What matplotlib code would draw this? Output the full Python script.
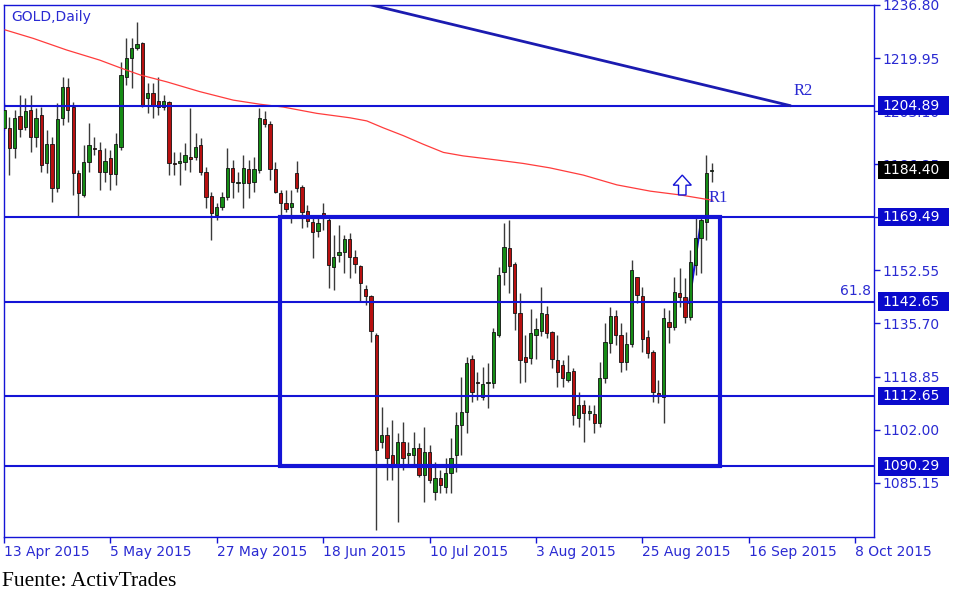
import numpy as np
import matplotlib
matplotlib.use('Agg')
import matplotlib.pyplot as plt
import matplotlib.transforms as mtrans
from matplotlib.patches import Rectangle, Polygon

# daily candles (bar 0 = 13 Apr 2015)
opens = [1197.8, 1197.7, 1191.3, 1201.7, 1198.2, 1203.5, 1195.0, 1201.9, 1186.5, 1192.6,
         1178.6, 1200.8, 1210.9, 1204.5, 1183.4, 1176.5, 1187.1, 1191.5, 1190.8, 1183.7,
         1188.3, 1183.1, 1191.8, 1214.0, 1220.1, 1223.1, 1224.7, 1207.2, 1208.8, 1206.3,
         1204.5, 1205.9, 1186.7, 1186.7, 1187.1, 1188.2, 1188.6, 1192.4, 1183.9, 1176.2,
         1170.2, 1172.8, 1175.8, 1185.0, 1180.2, 1180.2, 1184.6, 1180.7, 1184.4, 1200.5,
         1199.0, 1184.6, 1177.0, 1174.0, 1172.6, 1183.4, 1179.1, 1171.5, 1168.0, 1165.1,
         1170.7, 1168.5, 1153.7, 1157.4, 1158.5, 1162.4, 1156.9, 1154.0, 1146.5, 1144.4,
         1132.0, 1098.2, 1100.3, 1093.9, 1090.2, 1098.2, 1093.9, 1093.9, 1096.1, 1087.6,
         1095.0, 1082.3, 1086.5, 1083.9, 1088.3, 1093.9, 1103.5, 1107.7, 1124.3, 1116.9,
         1112.5, 1116.7, 1116.7, 1132.0, 1152.1, 1159.6, 1154.5, 1139.1, 1125.0, 1124.6,
         1132.0, 1133.4, 1138.7, 1133.1, 1124.1, 1122.5, 1117.8, 1120.7, 1105.6, 1109.8,
         1107.2, 1107.0, 1104.2, 1118.3, 1129.4, 1138.1, 1132.0, 1123.6, 1129.2, 1150.4,
         1144.4, 1131.3, 1126.7, 1113.7, 1112.5, 1136.3, 1134.5, 1145.5, 1144.2, 1137.9,
         1154.3, 1162.7, 1168.0, 1184.0]
highs = [1205.7, 1201.3, 1203.5, 1208.2, 1207.2, 1208.2, 1204.0, 1204.5, 1197.1, 1195.0,
         1205.6, 1214.0, 1213.5, 1206.1, 1184.4, 1192.4, 1199.3, 1195.0, 1193.4, 1191.3,
         1190.8, 1196.1, 1218.8, 1226.4, 1226.2, 1231.5, 1225.1, 1211.9, 1211.9, 1214.0,
         1208.2, 1206.3, 1190.2, 1190.2, 1193.0, 1204.1, 1196.2, 1194.6, 1185.5, 1177.5,
         1174.0, 1177.5, 1191.3, 1187.6, 1183.9, 1189.2, 1187.6, 1188.6, 1204.0, 1203.3,
         1200.1, 1187.1, 1178.1, 1178.1, 1178.1, 1187.3, 1179.7, 1173.3, 1169.1, 1169.1,
         1173.9, 1169.1, 1163.8, 1167.0, 1163.8, 1164.3, 1159.0, 1154.3, 1147.9, 1144.7,
         1132.6, 1109.3, 1102.9, 1105.1, 1100.8, 1104.5, 1098.2, 1101.3, 1097.7, 1102.9,
         1097.1, 1091.8, 1089.2, 1092.9, 1099.2, 1107.7, 1118.8, 1125.1, 1125.7, 1120.4,
         1122.0, 1123.1, 1134.2, 1153.7, 1167.5, 1168.5, 1155.3, 1145.5, 1132.0, 1140.2,
         1137.3, 1147.4, 1141.2, 1133.4, 1132.0, 1124.1, 1125.7, 1121.5, 1114.0, 1111.4,
         1109.8, 1109.8, 1123.6, 1135.8, 1141.0, 1140.0, 1135.8, 1133.1, 1155.9, 1150.5,
         1147.4, 1133.6, 1127.3, 1117.8, 1140.5, 1140.0, 1150.5, 1153.2, 1150.0, 1159.0,
         1169.1, 1169.1, 1189.2, 1186.6]
lows = [1197.1, 1182.8, 1188.1, 1195.0, 1197.1, 1190.2, 1191.8, 1183.9, 1183.4, 1174.4,
        1177.5, 1198.7, 1199.8, 1176.5, 1169.6, 1175.9, 1183.9, 1189.2, 1178.1, 1180.7,
        1178.1, 1179.7, 1190.8, 1211.4, 1210.4, 1222.5, 1204.4, 1202.4, 1200.8, 1201.9,
        1203.5, 1182.8, 1182.8, 1179.7, 1184.4, 1183.9, 1187.6, 1182.8, 1172.3, 1162.2,
        1168.5, 1171.7, 1174.9, 1175.4, 1177.5, 1172.3, 1175.4, 1177.5, 1183.4, 1198.0,
        1181.3, 1177.0, 1170.2, 1171.2, 1167.5, 1177.5, 1165.9, 1166.4, 1156.4, 1163.2,
        1165.4, 1146.9, 1146.3, 1155.3, 1151.6, 1150.0, 1151.6, 1142.6, 1141.6, 1129.9,
        1070.1, 1096.1, 1086.0, 1086.0, 1072.8, 1089.2, 1090.8, 1090.2, 1087.1, 1079.1,
        1084.9, 1079.6, 1081.8, 1081.8, 1081.8, 1088.6, 1093.9, 1100.8, 1110.9, 1111.4,
        1111.4, 1108.8, 1115.1, 1131.5, 1147.9, 1145.3, 1133.6, 1116.9, 1117.2, 1122.8,
        1124.3, 1131.7, 1131.0, 1121.5, 1115.6, 1115.6, 1117.2, 1103.5, 1102.9, 1098.2,
        1105.1, 1100.8, 1102.9, 1116.7, 1126.2, 1128.9, 1120.4, 1120.9, 1128.3, 1142.1,
        1126.7, 1124.6, 1110.9, 1110.4, 1104.0, 1129.4, 1133.6, 1141.0, 1135.8, 1136.8,
        1151.1, 1151.6, 1162.2, 1180.7]
closes = [1203.5, 1191.3, 1201.0, 1197.4, 1203.2, 1195.0, 1201.0, 1186.0, 1192.6, 1178.6,
          1200.6, 1210.9, 1203.5, 1183.4, 1177.0, 1187.1, 1192.4, 1191.1, 1183.9, 1187.3,
          1183.1, 1192.6, 1214.6, 1220.1, 1223.1, 1224.3, 1205.1, 1208.8, 1205.1, 1204.5,
          1206.3, 1186.5, 1186.3, 1187.4, 1189.2, 1188.0, 1191.8, 1183.9, 1175.9, 1170.7,
          1172.8, 1175.8, 1185.0, 1180.7, 1180.7, 1185.0, 1180.4, 1184.6, 1201.0, 1199.0,
          1184.6, 1177.5, 1174.0, 1172.0, 1174.0, 1178.6, 1171.2, 1168.3, 1164.8, 1167.7,
          1169.6, 1154.3, 1156.9, 1158.5, 1162.4, 1156.9, 1154.6, 1148.5, 1144.4, 1133.4,
          1095.5, 1100.3, 1092.9, 1090.2, 1098.2, 1092.9, 1094.5, 1096.1, 1087.6, 1094.8,
          1086.0, 1086.5, 1084.4, 1088.3, 1092.9, 1103.5, 1107.7, 1123.2, 1114.0, 1116.7,
          1116.5, 1116.9, 1133.1, 1151.1, 1160.1, 1153.9, 1139.1, 1124.1, 1123.6, 1132.6,
          1133.9, 1139.1, 1132.8, 1124.3, 1120.4, 1118.3, 1120.4, 1106.6, 1109.8, 1107.2,
          1107.9, 1104.2, 1118.3, 1129.9, 1138.1, 1132.0, 1123.6, 1129.2, 1152.7, 1144.7,
          1130.7, 1126.2, 1114.0, 1112.7, 1137.3, 1134.7, 1145.8, 1144.2, 1137.9, 1155.3,
          1162.7, 1168.5, 1183.4, 1184.4]

# moving average (red line), sampled along the curve
ma_bar = [0.2, 5.5, 11.8, 18.0, 22.1, 25.6, 30.6, 36.8, 43.1, 48.1, 52.5, 58.8, 65.0,
          68.2, 71.3, 75.1, 78.8, 82.6, 86.3, 92.6, 97.6, 102.6, 108.9, 115.2, 121.5,
          127.1, 132.1, 133.2]
ma_val = [1228.9, 1226.2, 1222.5, 1219.3, 1216.7, 1214.6, 1212.4, 1209.3, 1206.6, 1205.3,
          1204.4, 1202.4, 1201.0, 1200.0, 1197.8, 1195.3, 1192.6, 1190.0, 1188.9, 1187.6,
          1186.5, 1185.1, 1182.8, 1179.7, 1177.7, 1176.5, 1175.1, 1174.8]

date_labels = ['13 Apr 2015', '5 May 2015', '27 May 2015', '18 Jun 2015', '10 Jul 2015',
               '3 Aug 2015', '25 Aug 2015', '16 Sep 2015', '8 Oct 2015']
price_ticks = [1236.80, 1219.95, 1203.10, 1186.25, 1169.40, 1152.55, 1135.70, 1118.85,
               1102.00, 1085.15]
levels = [1204.89, 1169.49, 1142.65, 1112.65, 1090.29]
last_price = 1184.40

BLUE = '#1414d6'
TXT = '#2a2ad2'

fig = plt.figure(figsize=(9.6, 5.97), dpi=100)
ax = fig.add_axes([4 / 960, 1 - 536.7 / 597, 870.3 / 960, 531.7 / 597])
ax.set_xlim(0, 163.6)
ax.set_ylim(1068.0, 1236.8)

o = np.array(opens); h = np.array(highs); l = np.array(lows); c = np.array(closes)
idx = np.arange(len(o))
up = c >= o
body_lo = np.minimum(o, c)
body_h = np.maximum(np.abs(c - o), 0.4)
cols = np.where(up, '#158c15', '#b81010')

ax.vlines(idx, l, h, color='#3a3a3a', lw=1.0, zorder=2)
ax.bar(idx, body_h, bottom=body_lo, width=0.62, color=cols, edgecolor='#111111',
       linewidth=0.6, zorder=3)

# small drawn segment hidden behind the last candles
ax.plot([128.8, 131.0], [1142.2, 1167.9], color=BLUE, lw=1.5, zorder=1.5)

ax.plot(ma_bar, ma_val, color='#ff3c3c', lw=0.9, zorder=4)

for lv in levels:
    ax.axhline(lv, color=BLUE, lw=1.5, zorder=5)
ax.add_patch(Rectangle((51.9, levels[4]), 134.6 - 51.9, levels[1] - levels[4], fill=False,
                       edgecolor=BLUE, lw=3, zorder=5))
ax.plot([68.6, 147.7], [1237.0, 1204.89], color='#1b1bb0', lw=2, zorder=5)

ax.text(148.5, 1209.6, 'R2', family='Liberation Serif', fontsize=12, color=TXT,
        ha='left', va='center', zorder=6)
ax.text(132.4, 1175.6, 'R1', family='Liberation Serif', fontsize=12, color=TXT,
        ha='left', va='center', zorder=6)
ax.text(163.0, 1145.9, '61.8', fontsize=10, color=TXT, ha='right', va='center', zorder=6)
ax.text(0.0088, 0.9765, 'GOLD,Daily', transform=ax.transAxes, fontsize=10, color=TXT,
        ha='left', va='center', zorder=6)

arrow = [(127.5, 1182.8), (129.2, 1179.6), (128.2, 1179.6), (128.2, 1176.5),
         (126.8, 1176.5), (126.8, 1179.6), (125.8, 1179.6)]
ax.add_patch(Polygon(arrow, closed=True, facecolor='white', edgecolor=BLUE, lw=1.0, zorder=6))

# axes styling
for s in ax.spines.values():
    s.set_color(BLUE)
    s.set_linewidth(1.0)
ax.yaxis.tick_right()
ax.set_yticks(price_ticks)
ax.set_yticklabels(['%.2f' % v for v in price_ticks])
ax.set_xticks(np.arange(0, 161, 20))
ax.set_xticklabels(date_labels, ha='left')
ax.tick_params(axis='both', direction='out', length=4.3, width=1.0, color=BLUE,
               labelcolor=TXT, labelsize=10)
ax.tick_params(axis='y', pad=1.5)
ax.tick_params(axis='x', pad=2)

# highlighted price boxes on the right scale
trans = mtrans.blended_transform_factory(ax.transAxes, ax.transData)
bx0 = (878 - 4) / 870.3
bw = (949 - 878) / 870.3
for lv, fc in [(v, '#0a0acc') for v in levels] + [(last_price, '#000000')]:
    ax.add_patch(Rectangle((bx0, lv - 2.9), bw, 5.8, transform=trans, facecolor=fc,
                           edgecolor='none', clip_on=False, zorder=6))
    ax.text((882 - 4) / 870.3, lv, '%.2f' % lv, transform=trans, color='white',
            fontsize=10, ha='left', va='center', clip_on=False, zorder=7)

fig.text(2 / 960, 1 - 581.7 / 597, 'Fuente: ActivTrades', family='Liberation Serif',
         fontsize=15.5, color='black', ha='left', va='center')

fig.savefig('out.png', dpi=100, facecolor='white')
